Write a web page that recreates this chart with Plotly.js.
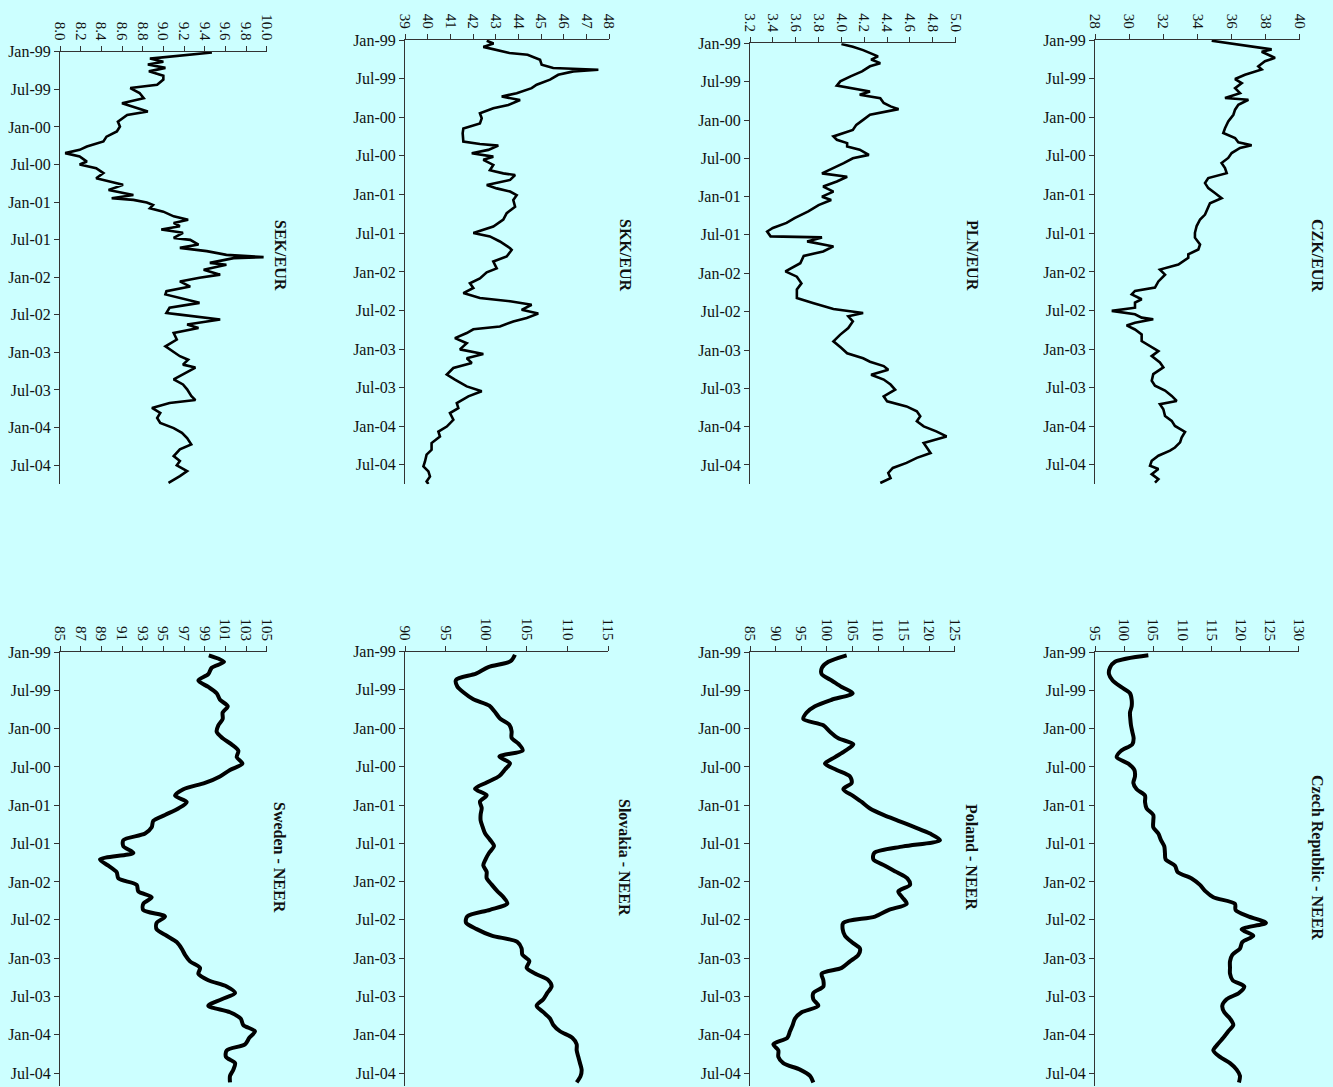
<!DOCTYPE html>
<html>
<head>
<meta charset="utf-8">
<script src="https://cdn.plot.ly/plotly-3.0.1.min.js"></script>
<style>
html,body{margin:0;padding:0;background:#ccffff;}
#chart{width:1333px;height:1087px;}
</style>
</head>
<body>
<div id="chart"></div>
<script>
// ---------------- DATA ----------------
const sekDates = ["1999-01-04","1999-01-17","1999-02-03","1999-02-18","1999-03-04","1999-03-20","1999-04-06","1999-04-27","1999-05-16","1999-06-10","1999-06-26","1999-07-20","1999-08-14","1999-09-08","1999-10-02","1999-10-18","1999-11-04","1999-12-06","1999-12-30","2000-01-23","2000-02-17","2000-03-11","2000-04-05","2000-04-21","2000-05-07","2000-05-23","2000-06-17","2000-07-01","2000-07-19","2000-08-12","2000-09-06","2000-09-22","2000-10-08","2000-11-02","2000-11-26","2000-12-12","2000-12-20","2001-01-02","2001-01-14","2001-01-30","2001-02-15","2001-03-10","2001-03-26","2001-04-11","2001-04-27","2001-05-13","2001-05-29","2001-06-23","2001-07-02","2001-07-25","2001-08-10","2001-08-26","2001-09-13","2001-09-24","2001-09-29","2001-10-22","2001-10-31","2001-11-24","2001-12-18","2002-01-02","2002-01-20","2002-02-14","2002-03-08","2002-03-24","2002-04-18","2002-05-04","2002-05-28","2002-06-22","2002-06-30","2002-07-24","2002-08-17","2002-09-03","2002-09-27","2002-10-29","2002-12-01","2002-12-30","2003-01-18","2003-02-04","2003-02-28","2003-03-14","2003-04-16","2003-05-10","2003-06-04","2003-06-28","2003-07-30","2003-08-19","2003-09-02","2003-09-26","2003-10-20","2003-11-14","2003-12-08","2004-01-02","2004-01-25","2004-02-19","2004-03-21","2004-04-14","2004-05-17","2004-06-10","2004-07-01","2004-07-29","2004-08-22","2004-09-08","2004-09-24"];
const sekValues = [9.47,9.18,8.87,9.00,8.85,9.02,8.86,9.00,9.00,8.94,8.68,8.77,8.81,8.60,8.74,8.85,8.65,8.56,8.58,8.55,8.45,8.42,8.26,8.19,8.05,8.19,8.26,8.19,8.35,8.42,8.35,8.48,8.61,8.47,8.71,8.50,8.71,8.84,8.90,8.87,9.00,9.10,9.24,9.10,9.16,8.98,9.19,9.10,9.26,9.34,9.16,9.42,9.61,9.97,9.68,9.45,9.61,9.39,9.55,9.35,9.16,9.26,9.03,9.02,9.23,9.35,9.06,9.03,9.16,9.55,9.23,9.34,9.10,9.13,9.02,9.10,9.16,9.24,9.19,9.31,9.19,9.10,9.19,9.23,9.27,9.31,9.06,8.89,8.97,8.94,8.97,9.10,9.18,9.23,9.27,9.16,9.10,9.16,9.13,9.23,9.16,9.10,9.05];

const skkDates = ["1999-01-04","1999-01-17","1999-02-02","1999-02-17","1999-03-03","1999-03-11","1999-04-04","1999-04-27","1999-05-13","1999-05-21","1999-05-29","1999-06-14","1999-07-07","1999-07-31","1999-08-16","1999-09-09","1999-09-25","1999-10-11","1999-11-04","1999-11-19","1999-12-13","2000-01-06","2000-01-30","2000-02-23","2000-03-16","2000-04-25","2000-05-06","2000-05-14","2000-06-03","2000-06-19","2000-07-05","2000-07-20","2000-08-13","2000-09-07","2000-09-22","2000-09-30","2000-10-23","2000-11-16","2000-12-02","2000-12-17","2001-01-03","2001-01-26","2001-02-27","2001-03-29","2001-04-29","2001-05-31","2001-07-01","2001-07-17","2001-08-10","2001-09-11","2001-09-19","2001-10-20","2001-11-13","2001-12-15","2002-01-03","2002-02-01","2002-02-24","2002-03-18","2002-04-11","2002-05-04","2002-05-20","2002-06-05","2002-06-29","2002-07-17","2002-08-07","2002-08-23","2002-09-16","2002-09-29","2002-10-17","2002-11-10","2002-12-04","2003-01-02","2003-01-24","2003-02-13","2003-03-07","2003-03-31","2003-05-01","2003-05-25","2003-06-26","2003-07-19","2003-08-12","2003-09-13","2003-10-07","2003-10-30","2003-12-01","2004-01-02","2004-01-26","2004-02-18","2004-03-20","2004-04-21","2004-05-14","2004-06-15","2004-07-08","2004-08-01","2004-08-25","2004-09-18","2004-09-30"];
const skkValues = [42.60,42.90,42.45,43.04,43.60,44.40,44.95,45.02,45.53,47.52,46.42,45.75,45.39,44.80,44.58,43.92,43.26,44.07,43.55,42.89,42.30,42.38,42.30,41.57,41.54,41.57,42.30,43.11,42.67,41.94,42.89,42.45,42.89,42.74,43.33,43.85,43.63,42.60,43.04,43.63,43.92,43.77,43.85,43.48,43.33,42.89,42.01,42.74,43.18,43.63,43.70,43.48,42.89,43.04,42.60,42.30,41.86,42.01,41.57,42.30,43.63,44.58,44.14,44.87,44.36,43.77,43.18,42.01,41.72,41.20,41.72,41.42,42.45,41.72,41.94,41.13,40.84,41.20,41.72,42.38,41.79,41.28,41.35,40.98,41.13,40.84,40.47,40.54,40.17,40.17,39.95,39.88,39.81,40.03,40.10,39.95,40.03];

const plnDates = ["1999-01-04","1999-01-17","1999-02-02","1999-02-17","1999-03-04","1999-03-19","1999-04-05","1999-04-20","1999-05-14","1999-06-07","1999-07-01","1999-07-21","1999-08-02","1999-08-18","1999-09-03","1999-09-19","1999-10-12","1999-10-28","1999-11-10","1999-11-21","1999-12-07","1999-12-31","2000-01-24","2000-02-17","2000-03-03","2000-03-19","2000-04-04","2000-04-20","2000-05-06","2000-05-21","2000-06-15","2000-07-01","2000-07-24","2000-08-17","2000-09-11","2000-09-27","2000-10-20","2000-11-13","2000-12-07","2000-12-31","2001-01-16","2001-02-09","2001-03-11","2001-04-12","2001-05-05","2001-05-29","2001-06-15","2001-07-08","2001-07-13","2001-08-01","2001-08-25","2001-09-18","2001-10-09","2001-11-13","2001-12-22","2002-01-16","2002-02-17","2002-03-18","2002-04-28","2002-05-21","2002-06-19","2002-07-08","2002-07-24","2002-08-17","2002-09-18","2002-10-19","2002-11-20","2002-12-22","2003-01-16","2003-02-09","2003-02-25","2003-03-18","2003-04-04","2003-04-28","2003-05-21","2003-06-14","2003-07-08","2003-08-09","2003-09-02","2003-09-26","2003-10-19","2003-11-12","2003-12-06","2003-12-30","2004-01-23","2004-02-16","2004-03-02","2004-03-18","2004-04-11","2004-05-05","2004-05-28","2004-06-21","2004-07-15","2004-08-08","2004-09-02","2004-09-17","2004-09-25"];
const plnValues = [4.00,4.10,4.19,4.25,4.32,4.26,4.34,4.25,4.18,4.08,3.99,3.96,4.08,4.25,4.16,4.34,4.37,4.43,4.50,4.40,4.25,4.19,4.13,4.10,4.02,3.93,3.96,4.05,4.05,4.16,4.24,4.10,4.02,3.93,3.83,4.05,3.96,3.84,3.93,3.83,3.91,3.80,3.71,3.59,3.52,3.40,3.35,3.38,3.83,3.70,3.93,3.84,3.67,3.64,3.51,3.61,3.65,3.61,3.61,3.75,3.93,4.19,4.06,4.10,4.06,3.99,3.93,4.00,4.05,4.19,4.25,4.37,4.41,4.26,4.37,4.43,4.47,4.37,4.40,4.57,4.66,4.69,4.66,4.72,4.83,4.92,4.83,4.72,4.75,4.78,4.66,4.57,4.45,4.41,4.43,4.37,4.34];

const czkDates = ["1999-01-04","1999-01-17","1999-02-02","1999-02-14","1999-02-25","1999-03-11","1999-03-26","1999-04-11","1999-05-05","1999-05-20","1999-06-14","1999-07-04","1999-07-23","1999-08-16","1999-09-09","1999-10-02","1999-10-10","1999-11-03","1999-11-26","1999-12-20","2000-01-21","2000-02-22","2000-03-15","2000-04-08","2000-04-28","2000-05-12","2000-05-25","2000-06-18","2000-07-11","2000-08-04","2000-08-28","2000-09-21","2000-10-14","2000-11-07","2000-12-01","2000-12-24","2001-01-17","2001-02-10","2001-03-04","2001-04-05","2001-04-28","2001-05-29","2001-06-30","2001-07-23","2001-08-24","2001-09-17","2001-10-10","2001-10-26","2001-11-27","2001-12-21","2002-01-14","2002-02-15","2002-03-16","2002-04-01","2002-04-17","2002-05-10","2002-05-26","2002-06-19","2002-07-04","2002-07-20","2002-08-05","2002-08-13","2002-08-29","2002-09-11","2002-09-30","2002-10-23","2002-11-24","2002-12-17","2003-01-10","2003-02-03","2003-03-05","2003-03-28","2003-04-29","2003-05-30","2003-06-23","2003-07-16","2003-08-10","2003-09-03","2003-09-18","2003-10-12","2003-11-13","2003-12-06","2003-12-30","2004-01-27","2004-02-23","2004-03-17","2004-04-10","2004-04-25","2004-05-19","2004-06-12","2004-07-05","2004-07-21","2004-08-14","2004-09-07","2004-09-23"];
const czkValues = [34.83,36.00,37.17,38.34,37.76,38.15,38.54,37.95,37.56,37.76,36.78,36.20,36.59,36.20,36.49,35.61,36.98,36.39,36.20,36.10,35.80,35.61,35.51,36.20,36.39,37.17,36.49,36.00,35.80,35.41,35.61,35.71,34.63,34.44,34.63,35.02,35.41,34.73,34.63,34.44,34.15,33.95,33.85,33.85,34.15,34.05,33.46,33.46,32.88,31.80,32.10,31.71,31.51,30.34,30.15,30.73,30.34,30.34,28.98,30.34,30.73,31.41,30.34,29.85,30.34,30.73,30.73,31.22,31.71,31.32,31.80,32.00,31.41,31.32,31.51,32.10,32.49,32.78,31.80,32.00,32.10,32.49,32.68,33.27,33.07,32.98,32.68,32.39,31.71,31.32,31.22,31.71,31.32,31.71,31.51];

const neerDates = ["1999-01-15","1999-02-15","1999-03-15","1999-04-15","1999-05-15","1999-06-15","1999-07-15","1999-08-15","1999-09-15","1999-10-15","1999-11-15","1999-12-15",
"2000-01-15","2000-02-15","2000-03-15","2000-04-15","2000-05-15","2000-06-15","2000-07-15","2000-08-15","2000-09-15","2000-10-15","2000-11-15","2000-12-15",
"2001-01-15","2001-02-15","2001-03-15","2001-04-15","2001-05-15","2001-06-15","2001-07-15","2001-08-15","2001-09-15","2001-10-15","2001-11-15","2001-12-15",
"2002-01-15","2002-02-15","2002-03-15","2002-04-15","2002-05-15","2002-06-15","2002-07-15","2002-08-15","2002-09-15","2002-10-15","2002-11-15","2002-12-15",
"2003-01-15","2003-02-15","2003-03-15","2003-04-15","2003-05-15","2003-06-15","2003-07-15","2003-08-15","2003-09-15","2003-10-15","2003-11-15","2003-12-15",
"2004-01-15","2004-02-15","2004-03-15","2004-04-15","2004-05-15","2004-06-15","2004-07-15","2004-08-15"];
const swedenNeer = [99.4,100.87,99.68,99.35,98.39,99.35,100.16,100.48,101.23,100.74,100.74,100.32,100.16,100.74,101.6,102.26,102.1,102.65,101.45,100.48,99.03,96.94,96.13,97.26,96.45,95.16,94.03,93.87,93.23,91.13,91.13,92.1,88.87,89.68,90.48,90.65,92.42,92.58,93.87,93.06,93.06,95.16,94.35,94.35,95.32,96.29,96.77,97.1,97.58,98.55,98.39,99.35,101.13,101.94,100.65,99.35,101.45,102.48,102.74,103.87,103.32,102.9,101.13,101.06,101.94,101.77,101.45,101.45];
const slovakiaNeer = [103.52,102.99,100.25,98.73,96.27,96.43,97.25,98.40,100.37,101.07,101.68,102.83,103.11,103.11,103.98,104.47,101.60,102.91,102.30,101.60,100.04,98.61,100.04,99.22,99.43,99.30,99.30,99.55,99.84,100.45,100.94,100.37,99.92,99.63,100.04,100.04,100.66,101.35,102.09,102.58,100.45,97.66,97.50,98.81,100.66,103.81,104.34,104.43,105.29,104.96,105.98,107.62,108.03,107.50,107.01,106.19,107.01,107.83,108.24,109.06,110.57,111.11,111.11,111.31,111.52,111.72,111.60,111.11];
const polandNeer = [103.86,100.28,99.05,98.98,100.93,102.89,105.03,100.93,97.68,96.06,95.41,99.31,100.61,102.24,105.16,103.54,101.59,99.63,101.91,104.51,104.84,103.21,105.03,106.79,108.41,111.02,113.94,117.20,120.12,122.07,114.92,109.26,109.07,111.34,113.62,115.70,116.22,113.94,114.72,115.57,112.00,109.39,103.21,103.08,103.54,104.84,106.46,106.14,104.51,102.89,98.98,99.31,99.31,97.36,97.36,98.33,95.08,93.78,93.33,92.80,92.28,89.55,90.53,90.53,91.50,94.76,96.71,97.36];
const czechNeer = [104.15,98.43,97.57,97.40,98.03,99.46,101.00,101.29,101.29,101.00,101.06,101.17,101.40,101.63,101.40,99.46,98.72,100.72,101.75,101.86,101.58,102.15,103.58,103.58,103.86,105.00,105.00,105.00,105.86,106.32,106.89,107.00,107.12,108.72,109.18,111.58,113.01,113.98,115.30,119.01,119.13,121.41,124.33,120.16,122.16,120.27,119.87,118.56,118.16,118.16,118.16,118.61,120.61,119.70,117.58,116.84,117.18,118.16,118.73,117.87,117.01,116.04,115.30,116.44,118.16,119.30,119.87,119.70];

const dateTickVals = ["1999-01-01","1999-07-01","2000-01-01","2000-07-01","2001-01-01","2001-07-01","2002-01-01","2002-07-01","2003-01-01","2003-07-01","2004-01-01","2004-07-01"];
const titles = ["SEK/EUR","SKK/EUR","PLN/EUR","CZK/EUR","Sweden - NEER","Slovakia - NEER","Poland - NEER","Czech Republic - NEER"];

// ---------------- LAYOUT ----------------
const W = 1333, H = 1087;
const px = v => v / W;
const py = v => 1 - v / H;
const serif = "'Liberation Serif', 'Times New Roman', serif";
const axisCol = "#333";
const textCol = "#111";

const panels = [
  {d: sekDates, v: sekValues, r: [7.9999, 10.0001], t0: 8, dt: 0.2, fmt: ".1f", L: 60, R: 266.7, T: 51.7, B: 484.3, end: "2004-10-01", w: 2.6, neer: false, tx: 280, ty: 255},
  {d: skkDates, v: skkValues, r: [38.999, 48.001], t0: 39, dt: 1, fmt: "d", L: 405, R: 609.3, T: 40, B: 484.3, end: "2004-10-01", w: 2.6, neer: false, tx: 625, ty: 255},
  {d: plnDates, v: plnValues, r: [3.1999, 5.0001], t0: 3.2, dt: 0.2, fmt: ".1f", L: 750, R: 955.7, T: 43.3, B: 484.3, end: "2004-10-01", w: 2.6, neer: false, tx: 972, ty: 255},
  {d: czkDates, v: czkValues, r: [27.999, 40.001], t0: 28, dt: 2, fmt: "d", L: 1095, R: 1300, T: 40, B: 484.3, end: "2004-10-01", w: 2.6, neer: false, tx: 1317, ty: 255},
  {d: neerDates, v: swedenNeer, r: [84.999, 105.001], t0: 85, dt: 2, fmt: "d", L: 60, R: 266.7, T: 652.3, B: 1086, end: "2004-09-01", w: 4, neer: true, tx: 280, ty: 857},
  {d: neerDates, v: slovakiaNeer, r: [89.999, 115.001], t0: 90, dt: 5, fmt: "d", L: 405, R: 608.3, T: 651.7, B: 1086, end: "2004-09-01", w: 4, neer: true, tx: 625, ty: 857},
  {d: neerDates, v: polandNeer, r: [84.999, 125.001], t0: 85, dt: 5, fmt: "d", L: 750, R: 955, T: 652.3, B: 1086, end: "2004-09-01", w: 4, neer: true, tx: 972, ty: 857},
  {d: neerDates, v: czechNeer, r: [94.999, 130.001], t0: 95, dt: 5, fmt: "d", L: 1095, R: 1299, T: 652.3, B: 1086, end: "2004-09-01", w: 4, neer: true, tx: 1317, ty: 857}
];

const traces = [];
const layout = {
  width: W, height: H,
  margin: {l: 0, r: 0, t: 0, b: 0},
  paper_bgcolor: "#ccffff",
  plot_bgcolor: "#ccffff",
  showlegend: false,
  font: {family: serif, color: textCol},
  annotations: []
};

panels.forEach((p, i) => {
  const n = i === 0 ? "" : String(i + 1);
  traces.push({
    type: "scatter", mode: "lines",
    x: p.v, y: p.d,
    xaxis: "x" + n, yaxis: "y" + n,
    line: p.neer ? {color: "#000", width: p.w, shape: "spline", smoothing: 0.8} : {color: "#000", width: p.w},
    hoverinfo: "skip"
  });
  layout["xaxis" + n] = {
    domain: [px(p.L), px(p.R)],
    anchor: "y" + n,
    side: "top",
    range: p.r,
    tick0: p.t0, dtick: p.dt,
    tickformat: p.fmt,
    tickangle: 90,
    ticks: "outside", ticklen: 5, tickwidth: 1, tickcolor: axisCol,
    showline: true, linecolor: axisCol, linewidth: 1,
    showgrid: false, zeroline: false,
    tickfont: {family: serif, size: 15, color: textCol},
    fixedrange: true
  };
  layout["yaxis" + n] = {
    domain: [py(p.B), py(p.T)],
    anchor: "x" + n,
    type: "date",
    range: [p.end, "1998-12-31 12:00"],
    tickmode: "array",
    tickvals: dateTickVals,
    tickformat: "%b-%y",
    ticks: "outside", ticklen: 5, tickwidth: 1, tickcolor: axisCol,
    showline: true, linecolor: axisCol, linewidth: 1,
    showgrid: false, zeroline: false,
    tickfont: {family: serif, size: 16, color: textCol},
    fixedrange: true
  };
  layout.annotations.push({
    xref: "paper", yref: "paper",
    x: px(p.tx), y: py(p.ty),
    xanchor: "center", yanchor: "middle",
    text: "<b>" + titles[i] + "</b>",
    textangle: 90,
    showarrow: false,
    font: {family: serif, size: 16, color: textCol}
  });
});

Plotly.newPlot("chart", traces, layout, {staticPlot: true, displayModeBar: false});
</script>
</body>
</html>
